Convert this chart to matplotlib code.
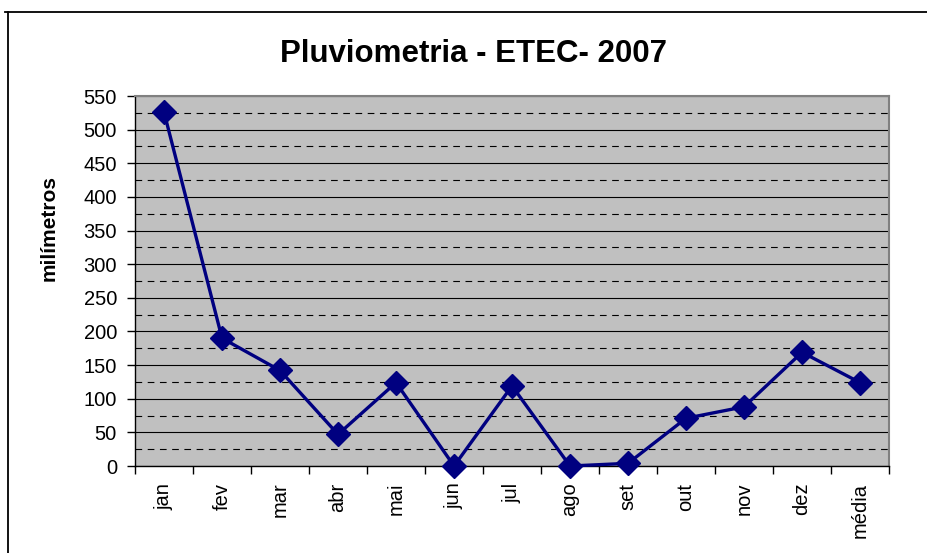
import matplotlib
matplotlib.use("Agg")
import matplotlib.pyplot as plt
from matplotlib.lines import Line2D

plt.rcParams["font.family"] = ["Liberation Sans", "DejaVu Sans"]

meses = ["jan", "fev", "mar", "abr", "mai", "jun", "jul",
         "ago", "set", "out", "nov", "dez", "média"]
chuva = [526, 190, 142, 47, 124, 0, 119, 0, 4, 71, 88, 169, 124]
y_ticks = list(range(0, 551, 50))
y_minor = list(range(25, 551, 50))

fig = plt.figure(figsize=(9.28, 5.53), dpi=100)
ax = fig.add_axes([0.1455, 0.1573, 0.958 - 0.1455, 0.8264 - 0.1573])
ax.set_facecolor("#c0c0c0")

x = list(range(len(meses)))
ax.plot(x, chuva, color="#000080", linewidth=2.4, marker="D",
        markersize=12.5, markerfacecolor="#000080", markeredgecolor="#000080",
        zorder=3, clip_on=False)

ax.set_xlim(-0.5, len(meses) - 0.5)
ax.set_ylim(0, 550)
ax.set_yticks(y_ticks)
ax.set_yticks(y_minor, minor=True)
ax.grid(axis="y", which="major", color="black", linewidth=0.8)
ax.grid(axis="y", which="minor", color="black", linewidth=0.8,
        linestyle=(0, (6, 5)))
ax.set_axisbelow(True)

ax.set_xticks(x)
ax.set_xticklabels(meses, rotation=90, fontsize=14.5)
ax.set_xticks([i - 0.5 for i in range(len(meses) + 1)], minor=True)
ax.tick_params(axis="x", which="major", length=0, pad=12)
ax.tick_params(axis="x", which="minor", length=6, width=1, direction="out")
ax.tick_params(axis="y", which="major", length=6, width=1, labelsize=14.5, pad=7)
ax.tick_params(axis="y", which="minor", length=0)

for s in ["top", "right"]:
    ax.spines[s].set_color("#808080")
    ax.spines[s].set_linewidth(1.5)
for s in ["left", "bottom"]:
    ax.spines[s].set_color("black")
    ax.spines[s].set_linewidth(1)

fig.text(49 / 928, 1 - 228 / 553, "milímetros", rotation=90, ha="center",
         va="center", fontsize=15, fontweight="bold")
fig.text(474 / 928, 1 - 51 / 553, "Pluviometria - ETEC- 2007", ha="center",
         va="center_baseline", fontsize=22.5, fontweight="bold")

# moldura do gráfico
fig.add_artist(Line2D([5 / 928, 1], [1 - 12 / 553, 1 - 12 / 553],
                      color="black", linewidth=1.3))
fig.add_artist(Line2D([8 / 928, 8 / 928], [0, 1 - 12 / 553],
                      color="black", linewidth=1.3))

fig.savefig("out.png", dpi=100)
